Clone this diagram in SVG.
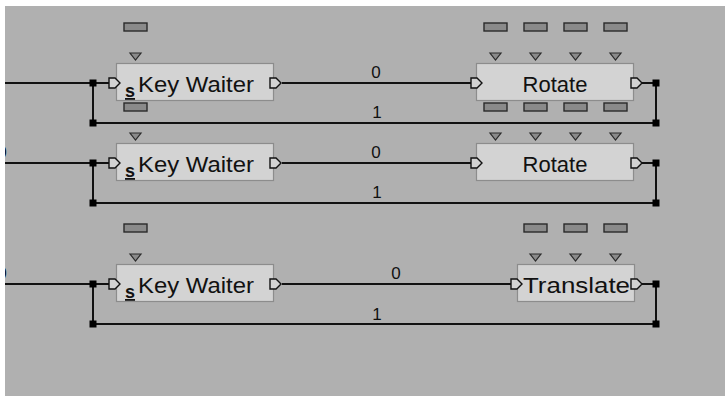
<svg xmlns="http://www.w3.org/2000/svg" width="725" height="396" viewBox="0 0 725 396">
<defs>
<style>
.bg{fill:#b0b0b0}
.box{fill:#d3d3d3;stroke:#8c8c8c;stroke-width:1.2}
.lbl{font-family:"Liberation Sans",Arial,sans-serif;font-size:22px;fill:#111}
.num{font-family:"Liberation Sans",Arial,sans-serif;font-size:17px;fill:#111;text-anchor:middle}
.s{font-family:"Liberation Sans",Arial,sans-serif;font-size:18px;font-weight:bold;fill:#111}
.wire{stroke:#111;stroke-width:2;fill:none}
.port{fill:#d3d3d3;stroke:#111;stroke-width:1.4}
.par{fill:#8a8a8a;stroke:#2a2a2a;stroke-width:1.4}
.tri{fill:#8a8a8a;stroke:#2a2a2a;stroke-width:1.2}
.jn{fill:#000}
</style>
<path id="pt" class="port" d="M0,-5 H6 L11,0 L6,5 H0 Z"/>
<rect id="pb" class="par" x="-11.5" y="0" width="23" height="8"/>
<path id="tr" class="tri" d="M-5.5,0 H5.5 L0,7 Z"/>
<rect id="jq" class="jn" x="-3.5" y="-3.5" width="7" height="7"/>
</defs>
<rect class="bg" x="0" y="0" width="725" height="396"/>

<g id="connectors">
<path class="wire" d="M0,83 H109 M93,83 V123 H656 V83 H642 M282,83 H471"/>
<path class="wire" d="M0,163 H109 M93,163 V203 H656 V163 H642 M282,163 H471"/>
<path class="wire" d="M0,284 H109 M93,284 V324 H656 V284 H642 M282,284 H511"/>
<use href="#jq" x="93" y="83"/><use href="#jq" x="93" y="123"/><use href="#jq" x="656" y="83"/><use href="#jq" x="656" y="123"/>
<use href="#jq" x="93" y="163"/><use href="#jq" x="93" y="203"/><use href="#jq" x="656" y="163"/><use href="#jq" x="656" y="203"/>
<use href="#jq" x="93" y="284"/><use href="#jq" x="93" y="324"/><use href="#jq" x="656" y="284"/><use href="#jq" x="656" y="324"/>
<text class="num" x="376" y="78">0</text><text class="num" x="377" y="118">1</text>
<text class="num" x="376" y="158">0</text><text class="num" x="377" y="198">1</text>
<text class="num" x="396" y="279">0</text><text class="num" x="377" y="320">1</text>
<text class="num" x="2" y="158">0</text>
<text class="num" x="2" y="279">0</text>
</g>

<g id="keywaiter1">
<use href="#pb" x="135.5" y="23"/><use href="#tr" x="135.5" y="53"/>
<rect class="box" x="116.5" y="63.5" width="157" height="37"/>
<use href="#pt" x="109" y="83"/><use href="#pt" x="270" y="83"/>
<text class="s" x="125" y="97" text-decoration="underline">s</text>
<text class="lbl" x="138" y="92" textLength="116" lengthAdjust="spacingAndGlyphs">Key Waiter</text>
</g>
<g id="rotate1">
<use href="#pb" x="495.5" y="23"/><use href="#pb" x="535.5" y="23"/><use href="#pb" x="575.5" y="23"/><use href="#pb" x="615.5" y="23"/>
<use href="#tr" x="495.5" y="53"/><use href="#tr" x="535.5" y="53"/><use href="#tr" x="575.5" y="53"/><use href="#tr" x="615.5" y="53"/>
<rect class="box" x="476.5" y="63.5" width="157" height="37"/>
<use href="#pt" x="471" y="83"/><use href="#pt" x="631" y="83"/>
<text class="lbl" x="555" y="92" text-anchor="middle">Rotate</text>
</g>

<g id="keywaiter2">
<use href="#pb" x="135.5" y="103"/><use href="#tr" x="135.5" y="133"/>
<rect class="box" x="116.5" y="143.5" width="157" height="37"/>
<use href="#pt" x="109" y="163"/><use href="#pt" x="270" y="163"/>
<text class="s" x="125" y="177" text-decoration="underline">s</text>
<text class="lbl" x="138" y="172" textLength="116" lengthAdjust="spacingAndGlyphs">Key Waiter</text>
</g>
<g id="rotate2">
<use href="#pb" x="495.5" y="103"/><use href="#pb" x="535.5" y="103"/><use href="#pb" x="575.5" y="103"/><use href="#pb" x="615.5" y="103"/>
<use href="#tr" x="495.5" y="133"/><use href="#tr" x="535.5" y="133"/><use href="#tr" x="575.5" y="133"/><use href="#tr" x="615.5" y="133"/>
<rect class="box" x="476.5" y="143.5" width="157" height="37"/>
<use href="#pt" x="471" y="163"/><use href="#pt" x="631" y="163"/>
<text class="lbl" x="555" y="172" text-anchor="middle">Rotate</text>
</g>

<g id="keywaiter3">
<use href="#pb" x="135.5" y="224"/><use href="#tr" x="135.5" y="254"/>
<rect class="box" x="116.5" y="264.5" width="157" height="37"/>
<use href="#pt" x="109" y="284"/><use href="#pt" x="270" y="284"/>
<text class="s" x="125" y="298" text-decoration="underline">s</text>
<text class="lbl" x="138" y="293" textLength="116" lengthAdjust="spacingAndGlyphs">Key Waiter</text>
</g>
<g id="translate3">
<use href="#pb" x="535.5" y="224"/><use href="#pb" x="575.5" y="224"/><use href="#pb" x="615.5" y="224"/>
<use href="#tr" x="535.5" y="254"/><use href="#tr" x="575.5" y="254"/><use href="#tr" x="615.5" y="254"/>
<rect class="box" x="517.5" y="264.5" width="117" height="37"/>
<use href="#pt" x="511" y="284"/><use href="#pt" x="631" y="284"/>
<text class="lbl" x="523" y="293" textLength="107" lengthAdjust="spacingAndGlyphs">Translate</text>
</g>

<rect x="0" y="0" width="725" height="6" fill="#ffffff"/>
<rect x="0" y="0" width="5" height="396" fill="#ffffff"/>
</svg>
